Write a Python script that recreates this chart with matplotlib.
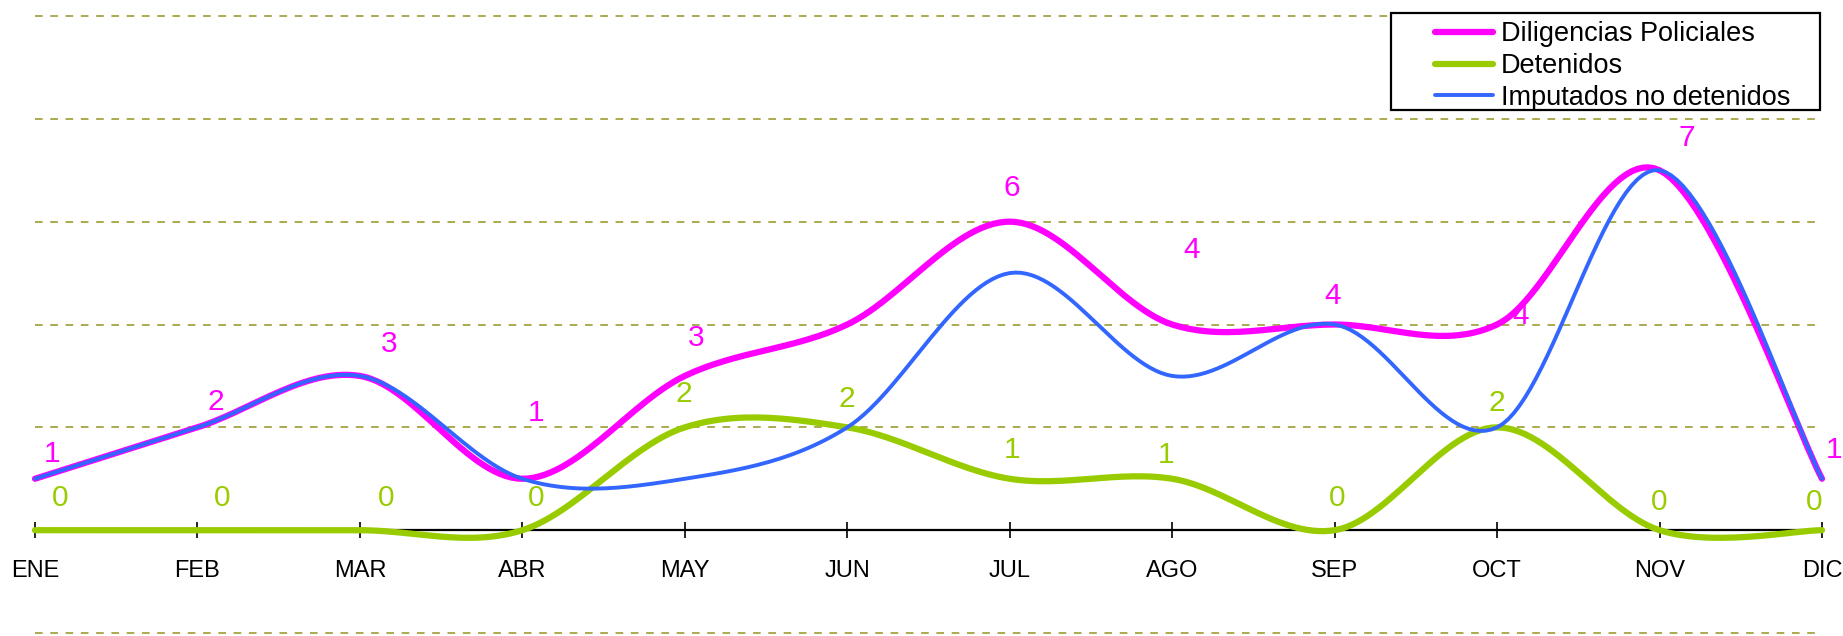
import matplotlib
matplotlib.use("Agg")
import matplotlib.pyplot as plt
from matplotlib.lines import Line2D
from matplotlib.patches import Rectangle
import numpy as np

plt.rcParams["font.family"] = ["Liberation Sans", "DejaVu Sans"]

meses = ["ENE", "FEB", "MAR", "ABR", "MAY", "JUN", "JUL", "AGO", "SEP", "OCT", "NOV", "DIC"]
diligencias = [1, 2, 3, 1, 3, 4, 6, 4, 4, 4, 7, 1]
detenidos = [0, 0, 0, 0, 2, 2, 1, 1, 0, 2, 0, 0]
imputados = [1, 2, 3, 1, 1, 2, 5, 3, 4, 2, 7, 1]

# label offsets in pixels (dx, up); None = no label shown
off_dilig = [(17, 25), (18, 25), (29, 32), (14, 66), (11, 38), None,
             (2, 34), (19, 75), (-2, 28), (24, 8), (27, 32), (12, 29)]
off_det = [(25, 32), (25, 32), (26, 32), (14, 32), (-1, 33), (0, 28),
           (2, 29), (-6, 24), (2, 32), (0, 24), (0, 28), (-8, 28)]

PINK = "#FF00FF"
GREEN = "#99CC00"
BLUE = "#3366FF"
GRID = "#939322"


def smooth(y, n=30):
    # excel-like smoothed line (bezier through the points)
    x = np.arange(len(y), dtype=float)
    y = np.asarray(y, dtype=float)
    xs, ys = [], []
    t = np.linspace(0, 1, n)
    for i in range(len(y) - 1):
        i0 = max(i - 1, 0)
        i3 = min(i + 2, len(y) - 1)
        p0 = np.array([x[i0], y[i0]])
        p1 = np.array([x[i], y[i]])
        p2 = np.array([x[i + 1], y[i + 1]])
        p3 = np.array([x[i3], y[i3]])
        b1 = p1 + (p2 - p0) / 6
        b2 = p2 - (p3 - p1) / 6
        pts = (np.outer((1 - t) ** 3, p1) + np.outer(3 * (1 - t) ** 2 * t, b1)
               + np.outer(3 * (1 - t) * t ** 2, b2) + np.outer(t ** 3, p2))
        xs.extend(pts[:, 0])
        ys.extend(pts[:, 1])
    return np.array(xs), np.array(ys)


W, H = 1843, 636
fig = plt.figure(figsize=(W / 100, H / 100), dpi=100)
ax = fig.add_axes([35 / W, 0.4 / H, 1787 / W, 622.2 / H])
ax.set_xlim(0, len(meses) - 1)
ax.set_ylim(-2.05, 10.05)

for s in ["top", "right", "left"]:
    ax.spines[s].set_visible(False)
ax.spines["bottom"].set_position(("data", 0))
ax.spines["bottom"].set_linewidth(1.6)
ax.spines["bottom"].set_zorder(1.5)

ax.set_xticks(range(len(meses)))
ax.set_xticklabels(meses, fontsize=17)
ax.tick_params(axis="x", direction="inout", length=11.5, width=1.2, pad=15.5)
ax.set_yticks([-2, 2, 4, 6, 8, 10])
ax.tick_params(axis="y", length=0, labelleft=False)
ax.yaxis.grid(True, color=GRID, linestyle=(0, (5, 5)), linewidth=1.1)
ax.set_axisbelow(True)

series = [
    (diligencias, PINK, 4.5, "Diligencias Policiales"),
    (detenidos, GREEN, 4.5, "Detenidos"),
    (imputados, BLUE, 2.8, "Imputados no detenidos"),
]
for vals, col, lw, name in series:
    xs, ys = smooth(vals)
    ax.plot(xs, ys, color=col, lw=lw, solid_capstyle="round",
            solid_joinstyle="round", clip_on=False, zorder=3)

for vals, offs, col in [(diligencias, off_dilig, PINK), (detenidos, off_det, GREEN)]:
    for i, v in enumerate(vals):
        if offs[i] is None:
            continue
        ax.annotate(str(v), (i, v), xytext=offs[i], textcoords="offset pixels",
                    ha="center", va="center", color=col, fontsize=21.5, zorder=4,
                    annotation_clip=False)

# legend
fig.patches.append(Rectangle((1391 / W, 1 - 110 / H), 429 / W, 97 / H,
                             transform=fig.transFigure, facecolor="white",
                             edgecolor="black", linewidth=1.6, zorder=5))
handles = [Line2D([], [], color=c, lw=lw, solid_capstyle="round") for _, c, lw, _ in series]
leg = fig.legend(handles, [n for *_, n in series], loc="center left",
                 bbox_to_anchor=(1421 / W, 1 - 66 / H), frameon=False,
                 fontsize=19.5, borderpad=0, handlelength=2.15, handletextpad=0.3,
                 labelspacing=0.22)
leg.set_zorder(6)

fig.savefig("out.png", dpi=100)
